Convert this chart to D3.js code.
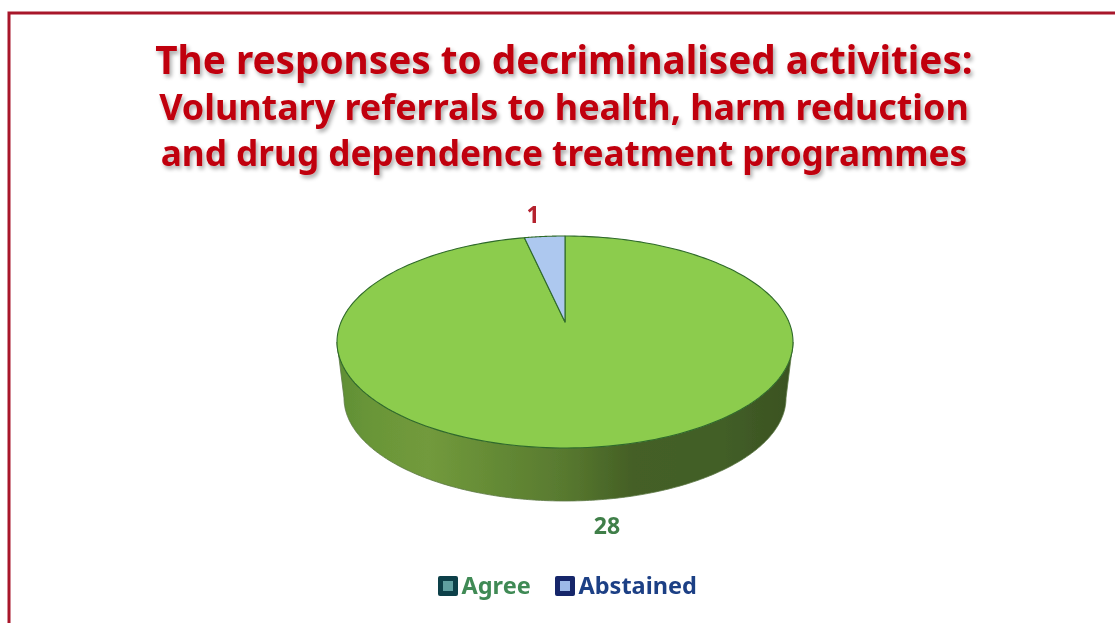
<!DOCTYPE html>
<html><head><meta charset="utf-8">
<script src="https://cdn.jsdelivr.net/npm/d3@7/dist/d3.min.js"></script>
<style>html,body{margin:0;padding:0;background:#fff;overflow:hidden}svg{display:block}</style>
</head><body><svg id="c" width="1115" height="623"></svg>
<script>
const categories = ["Agree", "Abstained"];
const values = [28, 1];
const titleLines = ["The responses to decriminalised activities:", "Voluntary referrals to health, harm reduction", "and drug dependence treatment programmes"];
const sliceColors = ["#8ccc4e", "#adc8ef"];
const legendInner = ["#5f9fa0", "#9db9e8"];
const legendOuter = ["#0f3f4a", "#12286a"];
const legendText = ["#3f8a55", "#1f3f85"];
const labelColors = ["#3f7f48", "#b5202f"];

const svg = d3.select("#c");
const defs = svg.append("defs");

const soft = defs.append("filter").attr("id","soft").attr("x","-5%").attr("y","-5%").attr("width","110%").attr("height","110%");
soft.append("feGaussianBlur").attr("stdDeviation",0.7);

const sh = defs.append("filter").attr("id","shadow").attr("x","-5%").attr("y","-20%").attr("width","110%").attr("height","150%");
sh.append("feGaussianBlur").attr("in","SourceAlpha").attr("stdDeviation",2).attr("result","b");
sh.append("feOffset").attr("in","b").attr("dx",1.5).attr("dy",2.5).attr("result","o");
sh.append("feComponentTransfer").attr("in","o").attr("result","o2").append("feFuncA").attr("type","linear").attr("slope",0.35);
sh.append("feGaussianBlur").attr("in","SourceGraphic").attr("stdDeviation",0.6).attr("result","t");
const m = sh.append("feMerge");
m.append("feMergeNode").attr("in","o2");
m.append("feMergeNode").attr("in","t");

const grad = defs.append("linearGradient").attr("id","side").attr("gradientUnits","userSpaceOnUse")
  .attr("x1",337).attr("x2",793).attr("y1",0).attr("y2",0);
[[0,"#5f8f35"],[0.08,"#6a9638"],[0.2,"#729a3c"],[0.35,"#648a35"],[0.5,"#58792f"],[0.65,"#445f25"],[0.85,"#425e28"],[1,"#3a5220"]]
  .forEach(s=>grad.append("stop").attr("offset",s[0]).attr("stop-color",s[1]));

// frame: its right side runs off the picture
svg.append("rect").attr("x",9).attr("y",13).attr("width",1130).attr("height",640)
  .attr("fill","#fff").attr("stroke","#a8142a").attr("stroke-width",3).attr("filter","url(#soft)");

// title
const titleY = d3.scaleOrdinal().domain(titleLines).range([74,120,166]);
const titleSize = d3.scaleOrdinal().domain(titleLines).range([38.7,35.9,35.2]);
svg.append("g").attr("filter","url(#shadow)").selectAll("text").data(titleLines).join("text")
  .attr("x",564).attr("y",d=>titleY(d)).attr("text-anchor","middle")
  .attr("font-family","'Noto Sans',sans-serif").attr("font-weight","bold")
  .attr("font-size",d=>titleSize(d)).attr("fill","#c00010").text(d=>d);

// 3D pie: projective map of a unit circle on to the top ellipse
const cx = 565, cy = 342, rx = 228, ry = 106;
const persp = -0.189;
const project = (a, X=cx, Y=cy, RX=rx, RY=ry) => {
  const v = -Math.cos(a), d = 1 + persp*v;
  return [X + RX*Math.sqrt(1-persp*persp)*Math.sin(a)/d, Y + RY*(v+persp)/d];
};
const pie = d3.pie().sort(null).value(d=>d).startAngle(0).endAngle(2*Math.PI);
const arcs = pie(values);
const line = d3.line();
const sweep = (a0,a1,n=240,...p) => d3.range(n+1).map(i=>project(a0+(a1-a0)*i/n,...p));

const chart = svg.append("g").attr("filter","url(#soft)");

// side wall runs between the two widest points of the ellipse
const edge = Math.acos(persp);
const botY = 398, botRx = 221, botRy = 103;
const wallTop = sweep(edge,2*Math.PI-edge);
const wallBot = sweep(edge,2*Math.PI-edge,240,cx,botY,botRx,botRy).reverse();
chart.append("path").attr("d",line(wallTop.concat(wallBot))+"Z").attr("fill","url(#side)").attr("stroke","#5d7845").attr("stroke-width",0.8);

// top
const apex = [cx, cy+ry*persp];
chart.selectAll("path.slice").data(arcs).join("path").attr("class","slice")
  .attr("d",d=>line([apex].concat(sweep(d.startAngle,d.endAngle)))+"Z")
  .attr("fill",(d,i)=>sliceColors[i])
  .attr("stroke","#2f6a2a").attr("stroke-width",1.1).attr("stroke-linejoin","round");

// value labels
const labelX = d3.scaleOrdinal().domain(categories).range([607,533]);
const labelY = d3.scaleOrdinal().domain(categories).range([534,223]);
svg.append("g").attr("filter","url(#soft)").selectAll("text").data(values).join("text")
  .attr("x",(d,i)=>labelX(categories[i])).attr("y",(d,i)=>labelY(categories[i]))
  .attr("text-anchor","middle").attr("font-family","'Noto Sans',sans-serif").attr("font-weight","bold")
  .attr("font-size",23).attr("fill",(d,i)=>labelColors[i]).text(d=>d);

// legend
const legX = d3.scaleOrdinal().domain(categories).range([438,555]);
const leg = svg.append("g").attr("filter","url(#soft)").selectAll("g").data(categories).join("g")
  .attr("transform",d=>`translate(${legX(d)},576)`);
leg.append("rect").attr("width",20).attr("height",20).attr("rx",2).attr("fill",(d,i)=>legendOuter[i]);
leg.append("rect").attr("x",5).attr("y",5).attr("width",10).attr("height",10).attr("fill",(d,i)=>legendInner[i]);
leg.append("text").attr("x",23.5).attr("y",18).attr("font-family","'Noto Sans',sans-serif").attr("font-weight","bold")
  .attr("font-size",23.5).attr("fill",(d,i)=>legendText[i]).text(d=>d);
</script></body></html>
